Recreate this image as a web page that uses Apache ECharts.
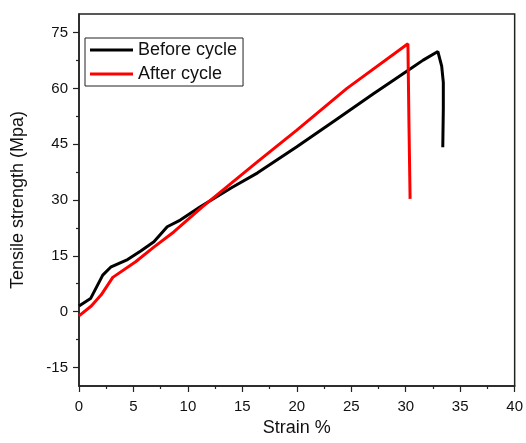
<!DOCTYPE html>
<html>
<head>
<meta charset="utf-8">
<script src="https://cdn.jsdelivr.net/npm/echarts@6/dist/echarts.min.js"></script>
<style>html,body{margin:0;padding:0;background:#fff}#c{width:526px;height:443px}</style>
</head>
<body>
<div id="c"></div>
<script>
var seriesNames = ['Before cycle', 'After cycle'];
var beforeStrain = [0, 1.06, 2.18, 2.95, 4.46, 5.67, 6.88, 8.1, 9.3, 11.1, 14, 16.4, 20, 23.7, 27, 30.4, 31.6, 32.95, 33.3, 33.45, 33.45, 33.4];
var beforeStress = [1.5, 3.5, 9.8, 12.05, 14.0, 16.3, 18.75, 22.8, 24.6, 28.1, 33.3, 37.3, 44.3, 51.8, 58.5, 65.2, 67.6, 69.9, 66, 61.6, 54.6, 44.2];
var afterStrain = [0, 1.13, 2.04, 3.1, 5.2, 6.9, 8.7, 11.3, 16.4, 20, 24.6, 30.2, 30.3, 30.4];
var afterStress = [-1.15, 1.5, 4.5, 9.2, 13.4, 17.4, 21.4, 28.1, 40.3, 48.8, 60.0, 72.0, 49.6, 30.3];
var yTickLabels = [-15, 0, 15, 30, 45, 60, 75];
var yMinorTicks = [-7.5, 7.5, 22.5, 37.5, 52.5, 67.5];
var xTickLabels = [0, 5, 10, 15, 20, 25, 30, 35, 40];

function pairs(xs, ys) { return xs.map(function (x, i) { return [x, ys[i]]; }); }

var chart = echarts.init(document.getElementById('c'));
var axisColor = '#222';
var font = 'Liberation Sans, Arial, sans-serif';
chart.setOption({
  animation: false,
  grid: { left: 79, right: 8, top: 14, bottom: 57, show: true, borderColor: axisColor, borderWidth: 1.5, backgroundColor: 'transparent' },
  legend: {
    left: 85, top: 38, orient: 'vertical',
    borderColor: axisColor, borderWidth: 1,
    padding: [3, 6, 3, 5], itemGap: 6,
    itemWidth: 43, itemHeight: 3, icon: 'rect',
    textStyle: { fontFamily: font, fontSize: 18, color: '#111' },
    data: seriesNames
  },
  xAxis: {
    type: 'value', min: 0, max: 40, interval: 5,
    name: 'Strain %', nameLocation: 'middle', nameGap: 33,
    nameTextStyle: { fontFamily: font, fontSize: 18, color: '#111' },
    axisLine: { show: true, onZero: false, lineStyle: { color: axisColor, width: 1.5 } },
    axisTick: { show: true, inside: false, length: 6, lineStyle: { color: axisColor, width: 1.2 } },
    minorTick: { show: true, splitNumber: 2, length: 3, lineStyle: { color: axisColor, width: 1.2 } },
    axisLabel: { fontFamily: font, fontSize: 15, color: '#111', margin: 13,
      formatter: function (v) { return xTickLabels.indexOf(v) >= 0 ? String(v) : ''; } },
    splitLine: { show: false }
  },
  yAxis: [{
    type: 'value', min: -20, max: 80,
    name: 'Tensile strength (Mpa)', nameLocation: 'middle', nameGap: 52,
    nameTextStyle: { fontFamily: font, fontSize: 18, color: '#111' },
    axisLine: { show: true, onZero: false, lineStyle: { color: axisColor, width: 1.5 } },
    axisTick: { show: true, length: 6, customValues: yTickLabels, lineStyle: { color: axisColor, width: 1.2 } },
    axisLabel: { fontFamily: font, fontSize: 15, color: '#111', margin: 11, customValues: yTickLabels },
    splitLine: { show: false }
  }, {
    type: 'value', min: -20, max: 80, position: 'left',
    axisLine: { show: false },
    axisTick: { show: true, length: 3, customValues: yMinorTicks, lineStyle: { color: axisColor, width: 1.2 } },
    axisLabel: { show: false, customValues: yMinorTicks },
    splitLine: { show: false }
  }],
  series: [{
    name: seriesNames[0], type: 'line', data: pairs(beforeStrain, beforeStress),
    symbol: 'none', lineStyle: { color: '#000', width: 3 }, itemStyle: { color: '#000' }
  }, {
    name: seriesNames[1], type: 'line', data: pairs(afterStrain, afterStress),
    symbol: 'none', lineStyle: { color: '#ff0000', width: 3 }, itemStyle: { color: '#ff0000' }
  }]
});
</script>
</body>
</html>
